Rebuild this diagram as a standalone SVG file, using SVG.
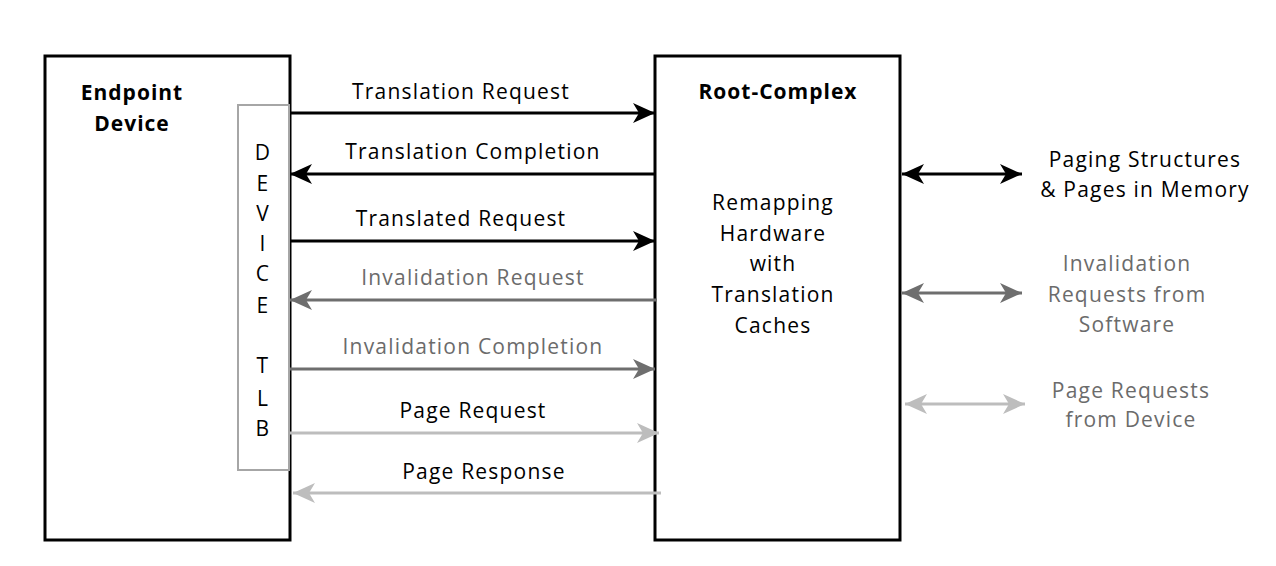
<svg xmlns="http://www.w3.org/2000/svg" width="1276" height="566" viewBox="0 0 1276 566">
<defs>
<style>
text{font-family:"Open Sans","Noto Sans",sans-serif;font-size:21px;letter-spacing:1.2px;text-anchor:middle}
.b{font-weight:bold;letter-spacing:1px}
.k{fill:#000}
.g{fill:#6b6b6b}
.box{fill:#fff;stroke:#000;stroke-width:3}
.tlb{fill:#fff;stroke:#a6a6a6;stroke-width:2}
.lk{stroke:#000;stroke-width:3;fill:none}
.lg{stroke:#6e6e6e;stroke-width:3;fill:none}
.ll{stroke:#bdbdbd;stroke-width:3;fill:none}
</style>
<marker id="ak" viewBox="0 0 22 20" refX="22" refY="10" markerWidth="22" markerHeight="20" markerUnits="userSpaceOnUse" orient="auto-start-reverse"><path d="M0,0 L22,10 L0,20 L6,10 Z" fill="#000"/></marker>
<marker id="ag" viewBox="0 0 22 20" refX="22" refY="10" markerWidth="22" markerHeight="20" markerUnits="userSpaceOnUse" orient="auto-start-reverse"><path d="M0,0 L22,10 L0,20 L6,10 Z" fill="#6e6e6e"/></marker>
<marker id="al" viewBox="0 0 22 20" refX="22" refY="10" markerWidth="22" markerHeight="20" markerUnits="userSpaceOnUse" orient="auto-start-reverse"><path d="M0,0 L22,10 L0,20 L6,10 Z" fill="#bdbdbd"/></marker>
</defs>
<rect width="1276" height="566" fill="#fff"/>
<g id="endpoint">
<rect class="box" x="45" y="56" width="245" height="484"/>
<text class="b k" x="132" y="100">Endpoint</text>
<text class="b k" x="132" y="131">Device</text>
</g>
<g id="tlb">
<rect class="tlb" x="238" y="105" width="51" height="365"/>
<text class="k" x="263" y="160">D</text>
<text class="k" x="263" y="191">E</text>
<text class="k" x="263" y="221">V</text>
<text class="k" x="263" y="251">I</text>
<text class="k" x="263" y="281">C</text>
<text class="k" x="263" y="313">E</text>
<text class="k" x="263" y="373">T</text>
<text class="k" x="263" y="406">L</text>
<text class="k" x="263" y="436">B</text>
</g>
<g id="root">
<rect class="box" x="655" y="56" width="245" height="484"/>
<text class="b k" x="778" y="99">Root-Complex</text>
<text class="k" x="773" y="210">Remapping</text>
<text class="k" x="773" y="241">Hardware</text>
<text class="k" x="773" y="271">with</text>
<text class="k" x="773" y="302">Translation</text>
<text class="k" x="773" y="333">Caches</text>
</g>
<g id="memory">
<text class="k" x="1145" y="167">Paging Structures</text>
<text class="k" x="1145" y="197">&amp; Pages in Memory</text>
</g>
<g id="software">
<text class="g" x="1127" y="271">Invalidation</text>
<text class="g" x="1127" y="302">Requests from</text>
<text class="g" x="1127" y="332">Software</text>
</g>
<g id="pagereq">
<text class="g" x="1131" y="398">Page Requests</text>
<text class="g" x="1131" y="427">from Device</text>
</g>
<g id="connectors">
<line class="lk" x1="290" y1="113" x2="655" y2="113" marker-end="url(#ak)"/>
<text class="k" x="461" y="99">Translation Request</text>
<line class="lk" x1="655" y1="174" x2="290" y2="174" marker-end="url(#ak)"/>
<text class="k" x="473" y="159">Translation Completion</text>
<line class="lk" x1="290" y1="241" x2="655" y2="241" marker-end="url(#ak)"/>
<text class="k" x="461" y="226">Translated Request</text>
<line class="lg" x1="657" y1="300" x2="290" y2="300" marker-end="url(#ag)"/>
<text class="g" x="473" y="285">Invalidation Request</text>
<line class="lg" x1="290" y1="369" x2="655" y2="369" marker-end="url(#ag)"/>
<text class="g" x="473" y="354">Invalidation Completion</text>
<line class="ll" x1="290" y1="433" x2="659" y2="433" marker-end="url(#al)"/>
<text class="k" x="473" y="418">Page Request</text>
<line class="ll" x1="661" y1="493" x2="293" y2="493" marker-end="url(#al)"/>
<text class="k" x="484" y="479">Page Response</text>
<line class="lk" x1="902" y1="174" x2="1022" y2="174" marker-start="url(#ak)" marker-end="url(#ak)"/>
<line class="lg" x1="902" y1="293" x2="1022" y2="293" marker-start="url(#ag)" marker-end="url(#ag)"/>
<line class="ll" x1="905" y1="404" x2="1025" y2="404" marker-start="url(#al)" marker-end="url(#al)"/>
</g>
</svg>
